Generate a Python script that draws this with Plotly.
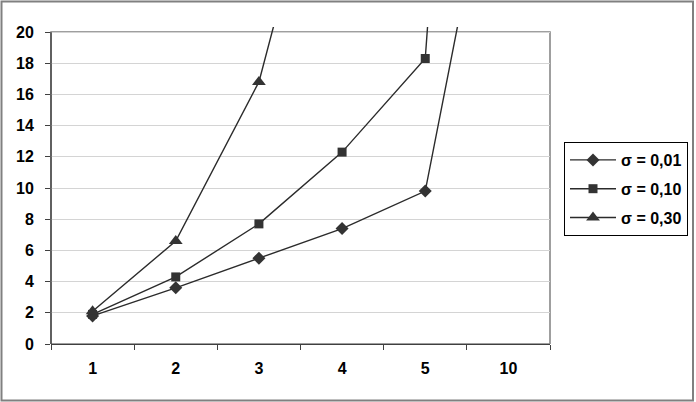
import plotly.graph_objects as go

categories = ["1", "2", "3", "4", "5", "10"]
s001 = [1.8, 3.6, 5.5, 7.4, 9.8, 37.0]
s010 = [1.9, 4.3, 7.7, 12.3, 18.3, 92.0]
s030 = [2.1, 6.6, 16.8, 37.0, None, None]
names = ["σ = 0,01", "σ = 0,10", "σ = 0,30"]
y_ticks = [0, 2, 4, 6, 8, 10, 12, 14, 16, 18, 20]

W, H = 696, 402
L, R, T, B = 51, 146, 27, 58
plot_h = H - T - B
ytop = plot_h / 15.6

fig = go.Figure()
symbols = ["diamond", "square", "triangle-up"]
sizes = [10, 9, 12]
for i, (vals, nm) in enumerate(zip([s001, s010, s030], names)):
    fig.add_trace(go.Scatter(
        x=categories, y=vals, name=nm, mode="lines+markers",
        line=dict(color="#2b2b2b", width=1.4),
        marker=dict(symbol=symbols[i], size=sizes[i], color="#333333"),
        legendgroup=str(i), connectgaps=False,
    ))

# plot area border (top/right) and left axis line up to 20
fig.add_shape(type="rect", xref="x domain", yref="y", x0=0, x1=1, y0=0, y1=20,
              line=dict(color="#808080", width=1.5), layer="below")
fig.add_shape(type="line", xref="x domain", yref="y", x0=0, x1=0, y0=0, y1=20,
              line=dict(color="#404040", width=1.3))
# outer frame
fx0 = (1.5 - L) / (W - L - R)
fx1 = (693 - L) / (W - L - R)
fy1 = (H - B - 1.5) / plot_h
fy0 = (H - B - 400.5) / plot_h
fig.add_shape(type="rect", xref="paper", yref="paper", x0=fx0, x1=fx1, y0=fy0, y1=fy1,
              line=dict(color="#808080", width=2))

tick_font = dict(family="Liberation Sans, Arial", size=16, color="black", weight="bold")
fig.update_layout(
    width=W, height=H,
    margin=dict(l=L, r=R, t=T, b=B, autoexpand=False),
    paper_bgcolor="white", plot_bgcolor="white",
    showlegend=True,
    legend=dict(
        x=(564 - L) / (W - L - R), y=(H - B - 142) / plot_h,
        xanchor="left", yanchor="top",
        bordercolor="black", borderwidth=1,
        font=dict(family="Liberation Sans, Arial", size=16, color="black", weight="bold"),
        tracegroupgap=5, itemwidth=46,
    ),
    xaxis=dict(
        type="category", range=[-0.5, 5.5], tickson="boundaries",
        ticks="outside", ticklen=5, tickcolor="#404040",
        showline=True, linecolor="#404040", linewidth=1.3,
        showgrid=False, zeroline=False,
        tickfont=tick_font, ticklabelstandoff=10,
        fixedrange=True,
    ),
    yaxis=dict(
        range=[0, ytop], tickvals=y_ticks,
        ticks="outside", ticklen=5, tickcolor="#404040",
        showline=False,
        showgrid=True, gridcolor="#d4d4d4", gridwidth=1,
        zeroline=False,
        tickfont=tick_font, ticklabelstandoff=8,
    ),
)

fig.write_html("out.html", config={"displayModeBar": False},
               post_script="document.body.style.margin='0';")
